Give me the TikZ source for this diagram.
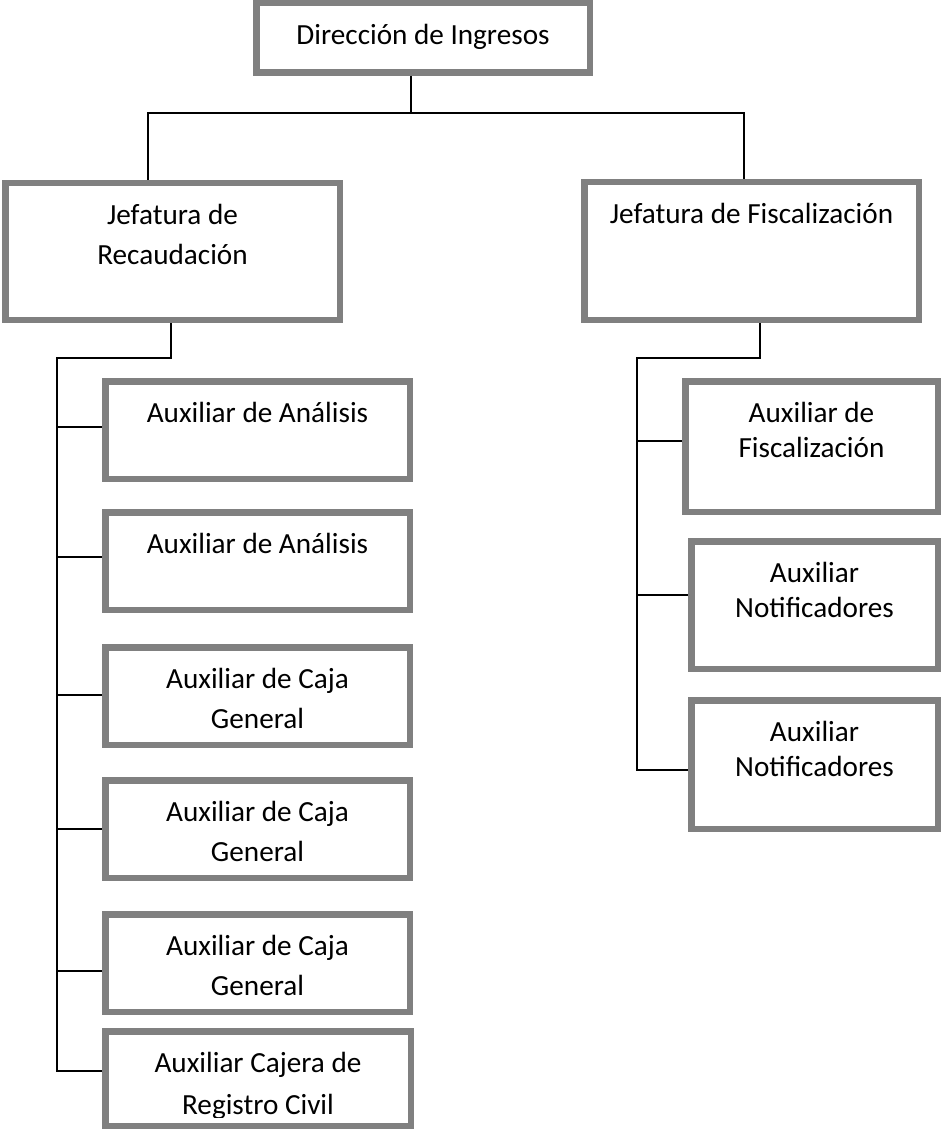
\documentclass[tikz,border=0pt]{standalone}
\usepackage{fontspec}
\setmainfont{Carlito}
\definecolor{boxgray}{HTML}{808080}
\newcommand\ibox[5]{\node[boxst, minimum width={#4-#2-6.5}, minimum height={#5-#3-6.5}] (#1) at ({(#2+#4)/2},{(#3+#5)/2}) {};}
\begin{document}
\begin{tikzpicture}[x=1pt,y=-1pt,
  boxst/.style={draw=boxgray, line width=6.5pt, fill=white, inner sep=0pt, rectangle},
  lbl/.style={anchor=base, inner sep=0pt, font=\fontsize{29.2}{40}\selectfont},
  conn/.style={draw=black, line width=1.7pt}]
\useasboundingbox[fill=white] (0,0) rectangle (941,1131);
% boxes
\ibox{dir}{253}{0}{593}{76}
\ibox{jefrec}{2}{180}{343}{323}
\ibox{jeffis}{581}{179}{922}{323}
\ibox{a1}{102}{378}{413}{482}
\ibox{a2}{102}{509}{413}{613}
\ibox{a3}{102}{644}{413}{748}
\ibox{a4}{102}{777}{413}{881}
\ibox{a5}{102}{911}{413}{1015}
\ibox{a6}{102}{1028}{414}{1129}
\ibox{f1}{682}{378}{941}{515}
\ibox{f2}{688}{538}{941}{672}
\ibox{f3}{688}{697}{941}{832}
% texts
\node[lbl] (t-dir) at (423,44.5) {Dirección de Ingresos};
\node[lbl] (t-jr1) at (172.5,224.5) {Jefatura de};
\node[lbl] (t-jr2) at (172.5,264.5) {Recaudación};
\node[lbl] (t-jf) at (751.5,223.5) {Jefatura de Fiscalización};
\node[lbl] (t-a1) at (257.5,422.5) {Auxiliar de Análisis};
\node[lbl] (t-a2) at (257.5,553.5) {Auxiliar de Análisis};
\node[lbl] (t-a3a) at (257.5,688.5) {Auxiliar de Caja};
\node[lbl] (t-a3b) at (257.5,728.5) {General};
\node[lbl] (t-a4a) at (257.5,821.5) {Auxiliar de Caja};
\node[lbl] (t-a4b) at (257.5,861.5) {General};
\node[lbl] (t-a5a) at (257.5,955.5) {Auxiliar de Caja};
\node[lbl] (t-a5b) at (257.5,995.5) {General};
\node[lbl] (t-a6a) at (258,1072.5) {Auxiliar Cajera de};
\begin{scope}
\clip (105,1031) rectangle (410,1117);
\node[lbl] (t-a6b) at (258,1114) {Registro Civil};
\end{scope}
\node[lbl] (t-f1a) at (811.5,422.5) {Auxiliar de};
\node[lbl] (t-f1b) at (811.5,457.5) {Fiscalización};
\node[lbl] (t-f2a) at (814.5,582.5) {Auxiliar};
\node[lbl] (t-f2b) at (814.5,617.5) {Notificadores};
\node[lbl] (t-f3a) at (814.5,741.5) {Auxiliar};
\node[lbl] (t-f3b) at (814.5,776.5) {Notificadores};
% connectors: top level
\coordinate (j0) at (411,113);
\coordinate (jl) at (148,113);
\coordinate (jr) at (744,113);
\draw[conn] (dir.south -| j0) -- (j0);
\draw[conn] (jefrec.north -| jl) -- (jl) -- (jr) -- (jeffis.north -| jr);
% left branch
\coordinate (rb) at (171,358);
\coordinate (rbus) at (57,358);
\coordinate (b1) at (57,427);
\coordinate (b2) at (57,557);
\coordinate (b3) at (57,695);
\coordinate (b4) at (57,829);
\coordinate (b5) at (57,971);
\coordinate (b6) at (57,1071);
\draw[conn] (jefrec.south -| rb) -- (rb) -- (rbus) -- (b6) -- (b6 -| a6.west);
\draw[conn] (b1) -- (b1 -| a1.west);
\draw[conn] (b2) -- (b2 -| a2.west);
\draw[conn] (b3) -- (b3 -| a3.west);
\draw[conn] (b4) -- (b4 -| a4.west);
\draw[conn] (b5) -- (b5 -| a5.west);
% right branch
\coordinate (fb) at (760,358);
\coordinate (fbus) at (637,358);
\coordinate (c1) at (637,441);
\coordinate (c2) at (637,595);
\coordinate (c3) at (637,770);
\draw[conn] (jeffis.south -| fb) -- (fb) -- (fbus) -- (c3) -- (c3 -| f3.west);
\draw[conn] (c1) -- (c1 -| f1.west);
\draw[conn] (c2) -- (c2 -| f2.west);
\end{tikzpicture}
\end{document}
